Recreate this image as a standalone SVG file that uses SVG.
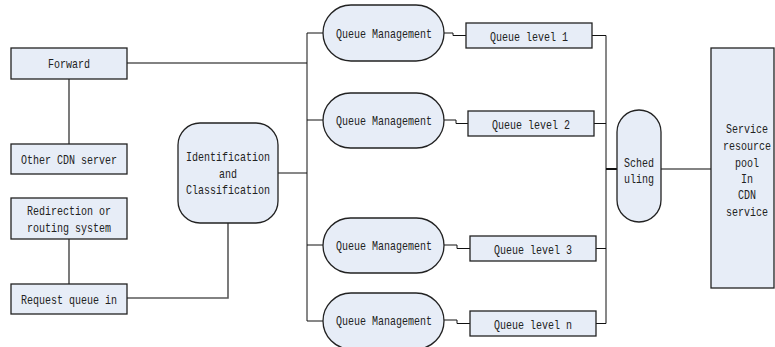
<svg xmlns="http://www.w3.org/2000/svg" width="775" height="347" viewBox="0 0 775 347">
<style>
.b{fill:#E7EDF7;stroke:#222;stroke-width:1.3}
.t{font-family:"Liberation Mono",monospace;font-size:13px;fill:#222;text-anchor:middle}
.g{fill:none;stroke:#5a5a5a;stroke-width:1.6}
.k{fill:none;stroke:#111;stroke-width:1}
</style>
<rect width="775" height="347" fill="#fff"/>
<g id="connectors">
<path class="g" d="M127 63H307M69 79V144M69 239V284M127 298H228V223"/>
<path class="k" d="M278 173H307M307 33V321M307 33H323M307 120H323M307 245H323M307 321H323"/>
<path class="k" d="M444 33H453V35.5H466M444 120H456V123.5H468M444 245H457V248.5H470M444 320H457V323.5H470"/>
<path class="k" d="M592 35.5H606M594 123.5H606M596 248.5H606M596 323.5H606M606 35.5V323.5"/>
<path class="k" d="M606 169H617" style="stroke-width:2"/>
<path class="g" d="M661 169H711"/>
</g>
<g id="forward"><rect class="b" x="11" y="48" width="116" height="31"/><text class="t" x="69" y="68" textLength="42" lengthAdjust="spacingAndGlyphs">Forward</text></g>
<g id="other-cdn"><rect class="b" x="11" y="144" width="116" height="30"/><text class="t" x="69" y="164" textLength="96" lengthAdjust="spacingAndGlyphs">Other CDN server</text></g>
<g id="redirection"><rect class="b" x="11" y="198" width="116" height="41"/><text class="t" x="69" y="215" textLength="84" lengthAdjust="spacingAndGlyphs">Redirection or</text><text class="t" x="69" y="232" textLength="84" lengthAdjust="spacingAndGlyphs">routing system</text></g>
<g id="request-queue"><rect class="b" x="11" y="284" width="116" height="30"/><text class="t" x="69" y="304" textLength="96" lengthAdjust="spacingAndGlyphs">Request queue in</text></g>
<g id="identification"><rect class="b" x="178" y="123" width="100" height="100" rx="22"/><text class="t" x="228" y="161" textLength="84" lengthAdjust="spacingAndGlyphs">Identification</text><text class="t" x="228" y="178" textLength="18" lengthAdjust="spacingAndGlyphs">and</text><text class="t" x="228" y="194" textLength="84" lengthAdjust="spacingAndGlyphs">Classification</text></g>
<g id="qm1"><rect class="b" x="323" y="5" width="121" height="56" rx="28"/><text class="t" x="384" y="38" textLength="96" lengthAdjust="spacingAndGlyphs">Queue Management</text></g>
<g id="qm2"><rect class="b" x="323" y="93" width="121" height="55" rx="27.5"/><text class="t" x="384" y="125" textLength="96" lengthAdjust="spacingAndGlyphs">Queue Management</text></g>
<g id="qm3"><rect class="b" x="323" y="218" width="121" height="55" rx="27.5"/><text class="t" x="384" y="250" textLength="96" lengthAdjust="spacingAndGlyphs">Queue Management</text></g>
<g id="qmn"><rect class="b" x="323" y="293" width="121" height="56" rx="28"/><text class="t" x="384" y="325" textLength="96" lengthAdjust="spacingAndGlyphs">Queue Management</text></g>
<g id="ql1"><rect class="b" x="466" y="23" width="126" height="25"/><text class="t" x="529" y="41" textLength="78" lengthAdjust="spacingAndGlyphs">Queue level 1</text></g>
<g id="ql2"><rect class="b" x="468" y="111" width="126" height="25"/><text class="t" x="531" y="129" textLength="78" lengthAdjust="spacingAndGlyphs">Queue level 2</text></g>
<g id="ql3"><rect class="b" x="470" y="236" width="126" height="25"/><text class="t" x="533" y="254" textLength="78" lengthAdjust="spacingAndGlyphs">Queue level 3</text></g>
<g id="qln"><rect class="b" x="470" y="311" width="126" height="25"/><text class="t" x="533" y="329" textLength="78" lengthAdjust="spacingAndGlyphs">Queue level n</text></g>
<g id="scheduling"><rect class="b" x="617" y="110" width="44" height="112" rx="22"/><text class="t" x="639" y="167" textLength="30" lengthAdjust="spacingAndGlyphs">Sched</text><text class="t" x="639" y="183" textLength="30" lengthAdjust="spacingAndGlyphs">uling</text></g>
<g id="service-pool"><rect class="b" x="711" y="48" width="63" height="240"/>
<g transform="translate(747 0) scale(0.77 1)"><text class="t" x="0" y="133">Service</text><text class="t" x="0" y="150">resource</text><text class="t" x="0" y="167">pool</text><text class="t" x="0" y="183">In</text><text class="t" x="0" y="199">CDN</text><text class="t" x="0" y="216">service</text></g></g>
</svg>
